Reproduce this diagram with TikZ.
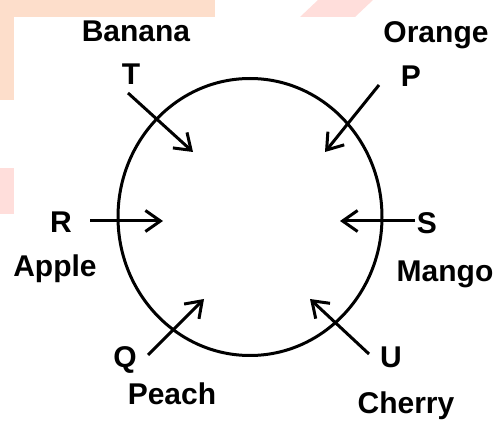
\documentclass[tikz,border=0pt]{standalone}
\usepackage{fontspec}
\setmainfont{Liberation Sans}
\usepackage{xcolor}
\usetikzlibrary{shapes.geometric,arrows.meta}

\definecolor{wmpeach}{HTML}{FDDECB}
\definecolor{wmpink}{HTML}{FFDEDB}

\begin{document}
\begin{tikzpicture}[x=1pt,y=-1pt,
    lbl/.style={anchor=base, inner sep=0pt, font=\fontsize{30}{36}\selectfont\bfseries},
    inarrow/.style={line width=3pt, -{Straight Barb[length=15pt,width=21pt]}}]
    \useasboundingbox (0,0) rectangle (499,422);

    % Watermark in the background
    \fill[wmpeach] (0,0) rectangle (215,17);
    \fill[wmpeach] (0,17) rectangle (14,100);
    \fill[wmpink] (0,168) rectangle (14,214);
    \fill[wmpink] (300,17) -- (318,0) -- (373,0) -- (355,17) -- cycle;

    % Ring
    \node[draw, ellipse, line width=3pt, minimum width=264pt, minimum height=277pt] (ring) at (250,217) {};

    % Letters
    \node[lbl] (T) at (131,85) {T};
    \node[lbl] (P) at (411,87) {P};
    \node[lbl] (R) at (61,233) {R};
    \node[lbl] (S) at (427,234) {S};
    \node[lbl] (Q) at (125,368) {Q};
    \node[lbl] (U) at (391,368) {U};

    % Fruits
    \node[lbl] (banana) at (136,42) {Banana};
    \node[lbl] (orange) at (436,43) {Orange};
    \node[lbl] (apple) at (55,277) {Apple};
    \node[lbl] (mango) at (445,282) {Mango};
    \node[lbl] (peach) at (172,405) {Peach};
    \node[lbl] (cherry) at (406,414) {Cherry};

    % Arrow ends
    \coordinate (T-out) at (128,93);  \coordinate (T-in) at (193,152);
    \coordinate (P-out) at (379,85);  \coordinate (P-in) at (325,152);
    \coordinate (R-out) at (90,221);  \coordinate (R-in) at (163,221);
    \coordinate (S-out) at (415,221); \coordinate (S-in) at (340,221);
    \coordinate (Q-out) at (148,355); \coordinate (Q-in) at (204,299);
    \coordinate (U-out) at (369,354); \coordinate (U-in) at (310,299);

    % Facing the centre
    \draw[inarrow] (T-out) -- (T-in);
    \draw[inarrow] (P-out) -- (P-in);
    \draw[inarrow] (R-out) -- (R-in);
    \draw[inarrow] (S-out) -- (S-in);
    \draw[inarrow] (Q-out) -- (Q-in);
    \draw[inarrow] (U-out) -- (U-in);
\end{tikzpicture}
\end{document}
